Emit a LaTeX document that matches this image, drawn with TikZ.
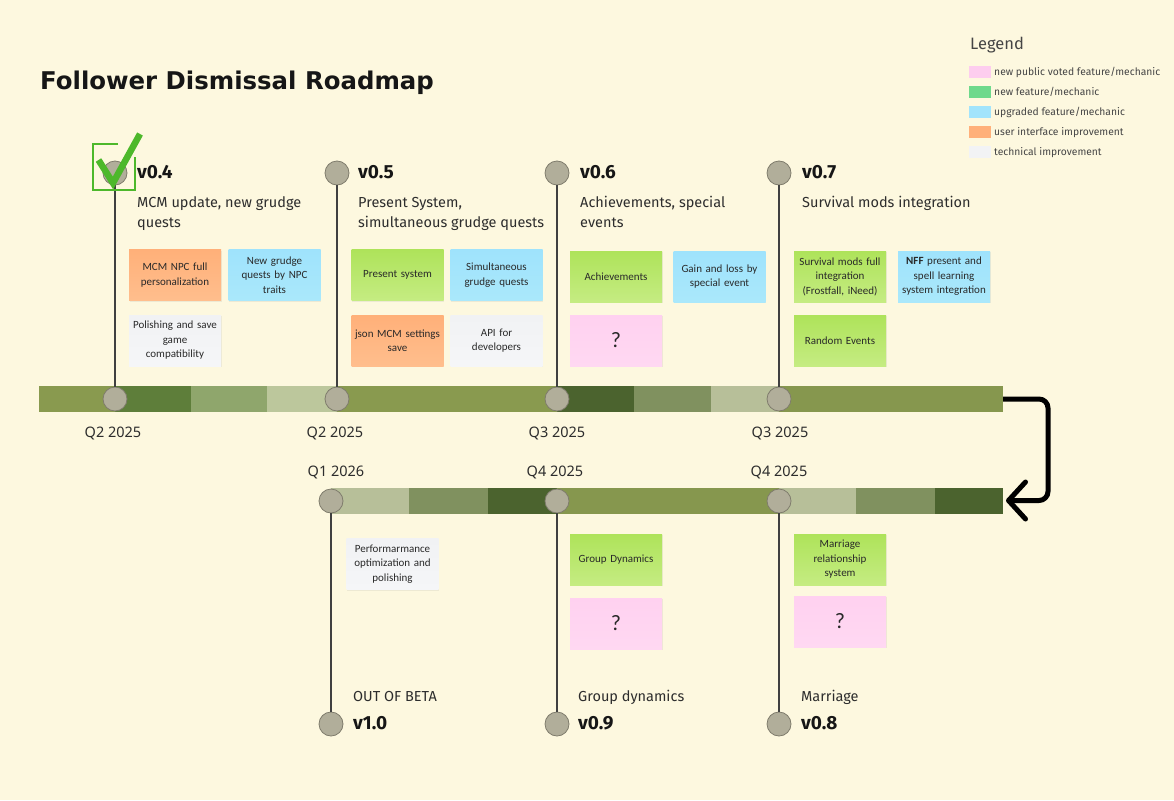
\documentclass[tikz,border=0pt]{standalone}
\usepackage{fontspec}
\setmainfont{Fira Sans}
\newfontfamily\notofont{Noto Sans}
\newfontfamily\titlefont{DejaVu Sans}
\newfontfamily\stickyfont{Carlito}
\usetikzlibrary{arrows.meta,shadows}
\definecolor{bg}{HTML}{FDF8DF}
\definecolor{olive}{HTML}{899A4F}
\definecolor{darkA}{HTML}{5E7E3A}
\definecolor{midA}{HTML}{8FA66C}
\definecolor{lightA}{HTML}{BCC79C}
\definecolor{darkB}{HTML}{4B632E}
\definecolor{midB}{HTML}{80915F}
\definecolor{lightB}{HTML}{B7BF99}
\definecolor{circ}{HTML}{B1AE9A}
\definecolor{circd}{HTML}{7F7C6C}
\definecolor{vline}{HTML}{404040}
\definecolor{txt}{HTML}{161616}
\definecolor{orT}{HTML}{FFB079}
\definecolor{orB}{HTML}{FFBE8D}
\definecolor{grT}{HTML}{AEE35A}
\definecolor{grB}{HTML}{C5EC82}
\definecolor{blT}{HTML}{9FE3FC}
\definecolor{blB}{HTML}{AAE8FB}
\definecolor{gyT}{HTML}{F1F2F4}
\definecolor{gyB}{HTML}{F5F6F8}
\definecolor{pkT}{HTML}{FFD1F0}
\definecolor{pkB}{HTML}{FFD8F2}
\definecolor{lgPink}{HTML}{FDCDEE}
\definecolor{lgGreen}{HTML}{6ED98C}
\definecolor{lgBlue}{HTML}{A2E4FC}
\definecolor{lgOrange}{HTML}{FFB07A}
\definecolor{lgGray}{HTML}{F2F3F5}
\definecolor{checkg}{HTML}{4DB82B}
\tikzset{
  sticky/.style={minimum width=92pt, minimum height=51pt, text width=90pt, align=center,
    inner sep=0pt, text=txt!92,
    font=\stickyfont\fontsize{11}{14.5}\selectfont,
    drop shadow={shadow xshift=0.8pt, shadow yshift=-1.4pt, opacity=0.12}},
  orange/.style={sticky, top color=orT, bottom color=orB},
  green/.style={sticky, top color=grT, bottom color=grB},
  blue/.style={sticky, top color=blT, bottom color=blB},
  gray/.style={sticky, top color=gyT, bottom color=gyB},
  pink/.style={sticky, top color=pkT, bottom color=pkB, font=\stickyfont\fontsize{22}{22}\selectfont},
  ms/.style={circle, minimum size=24pt, inner sep=0pt, fill=circ, draw=circd, line width=0.8pt},
  vl/.style={draw=vline, line width=1.5pt},
  ver/.style={anchor=base west, inner sep=0pt, text=txt, font=\bfseries\fontsize{19}{20}\selectfont},
  desc/.style={anchor=base west, inner sep=0pt, text=txt!90, align=left, font=\fontsize{14.5}{20}\selectfont},
  qlab/.style={anchor=base, inner sep=0pt, text=txt!90, font=\notofont\fontsize{14.5}{16}\selectfont},
  lgsw/.style={minimum width=22pt, minimum height=12pt, inner sep=0pt},
  lgtx/.style={anchor=base west, inner sep=0pt, text=txt!80, font=\fontsize{10.3}{12}\selectfont},
}
\begin{document}
\begin{tikzpicture}[x=1pt,y=-1pt]
\useasboundingbox (0,0) rectangle (1174,800);
\fill[bg] (0,0) rectangle (1174,800);

% title
\node[anchor=base west, inner sep=0pt, text=txt, font=\titlefont\bfseries\fontsize{24.4}{30}\selectfont] (title) at (40,89) {Follower Dismissal Roadmap};

% legend
\node[anchor=base west, inner sep=0pt, text=txt!80, font=\fontsize{16.5}{18}\selectfont] (legend) at (970,49) {Legend};
\node[lgsw, fill=lgPink] (lg1) at (980,72) {};
\node[lgsw, fill=lgGreen] (lg2) at (980,92) {};
\node[lgsw, fill=lgBlue] (lg3) at (980,112) {};
\node[lgsw, fill=lgOrange] (lg4) at (980,132) {};
\node[lgsw, fill=lgGray] (lg5) at (980,152) {};
\node[lgtx] (lt1) at (994,75.5) {new public voted feature/mechanic};
\node[lgtx] (lt2) at (994,95.5) {new feature/mechanic};
\node[lgtx] (lt3) at (994,115.5) {upgraded feature/mechanic};
\node[lgtx] (lt4) at (994,135.5) {user interface improvement};
\node[lgtx] (lt5) at (994,155.5) {technical improvement};

% top bar
\fill[olive] (39,386) rectangle (115,412);
\fill[darkA] (115,386) rectangle (191,412);
\fill[midA] (191,386) rectangle (267,412);
\fill[lightA] (267,386) rectangle (337,412);
\fill[olive] (337,386) rectangle (557,412);
\fill[darkB] (557,386) rectangle (634,412);
\fill[midB] (634,386) rectangle (711,412);
\fill[lightB] (711,386) rectangle (779,412);
\fill[olive!98!black] (779,386) rectangle (1003,412);
% bottom bar
\fill[lightB] (331,488) rectangle (409,514);
\fill[midB] (409,488) rectangle (488,514);
\fill[darkB] (488,488) rectangle (557,514);
\fill[olive!98!black] (557,488) rectangle (779,514);
\fill[lightB] (779,488) rectangle (856,514);
\fill[midB] (856,488) rectangle (935,514);
\fill[darkB] (935,488) rectangle (1003,514);

% bar end coordinates and loop arrow
\coordinate (topend) at (1003,399);
\coordinate (tr) at (1048,399);
\coordinate (br) at (1048,500.5);
\coordinate (botend) at (1006,500.5);
\draw[line width=5pt, rounded corners=9pt, line join=round, -{Straight Barb[length=17pt,width=37pt,round]}] (topend) -- (tr) -- (br) -- (botend);

% milestone circles
\node[ms] (a1) at (115,173) {};
\node[ms] (a2) at (115,399) {};
\node[ms] (b1) at (337,173) {};
\node[ms] (b2) at (337,399) {};
\node[ms] (c1) at (557,173) {};
\node[ms] (c2) at (557,399) {};
\node[ms] (d1) at (779,173) {};
\node[ms] (d2) at (779,399) {};
\node[ms] (e1) at (331,501) {};
\node[ms] (e2) at (331,724) {};
\node[ms] (f1) at (557,501) {};
\node[ms] (f2) at (557,724) {};
\node[ms] (g1) at (779,501) {};
\node[ms] (g2) at (779,724) {};
\draw[vl] (a1) -- (a2);
\draw[vl] (b1) -- (b2);
\draw[vl] (c1) -- (c2);
\draw[vl] (d1) -- (d2);
\draw[vl] (e1) -- (e2);
\draw[vl] (f1) -- (f2);
\draw[vl] (g1) -- (g2);

% check mark
\draw[checkg, line width=2.6pt] (118,144) -- (93,144) -- (93,190) -- (135,190) -- (135,157);
\draw[checkg, line width=6.5pt, line cap=butt, line join=miter] (98.5,160) -- (113,183) -- (140,134);

% version labels
\node[ver] (v4) at (137,178) {v0.4};
\node[ver] (v5) at (358,178) {v0.5};
\node[ver] (v6) at (580,178) {v0.6};
\node[ver] (v7) at (802,178) {v0.7};
\node[ver] (v10) at (353,729) {v1.0};
\node[ver] (v9) at (578,729) {v0.9};
\node[ver] (v8) at (801,729) {v0.8};

% descriptions
\node[desc] (d4) at (137,207) {MCM update, new grudge};
\node[desc] (d4b) at (137,227) {quests};
\node[desc] (d5) at (358,207) {Present System,};
\node[desc] (d5b) at (358,227) {simultaneous grudge quests};
\node[desc] (d6) at (580,207) {Achievements, special};
\node[desc] (d6b) at (580,227) {events};
\node[desc] (d7) at (802,207) {Survival mods integration};
\node[desc] (d10) at (353,701) {OUT OF BETA};
\node[desc] (d9) at (578,701) {Group dynamics};
\node[desc] (d8) at (801,701) {Marriage};

% date labels
\node[qlab] (q1) at (113,437) {Q2 2025};
\node[qlab] (q2) at (335,437) {Q2 2025};
\node[qlab] (q3) at (557,437) {Q3 2025};
\node[qlab] (q4) at (780,437) {Q3 2025};
\node[qlab] (q5) at (336,476) {Q1 2026};
\node[qlab] (q6) at (555,476) {Q4 2025};
\node[qlab] (q7) at (779,476) {Q4 2025};

% stickies
\node[orange] (s1) at (175,275) {MCM NPC full\\personalization};
\node[blue] (s2) at (274.5,275) {New grudge\\quests by NPC\\traits};
\node[gray] (s3) at (175,340.5) {Polishing and save\\game\\compatibility};
\node[green] (s4) at (397.5,275) {Present system};
\node[blue] (s5) at (496.5,275) {Simultaneous\\grudge quests};
\node[orange] (s6) at (397.5,340.5) {json MCM settings\\save};
\node[gray] (s7) at (496.5,340.5) {API for\\developers};
\node[green] (s8) at (616,276.5) {Achievements};
\node[blue] (s9) at (719.5,276.5) {Gain and loss by\\special event};
\node[pink] (s10) at (616,340.5) {?};
\node[green] (s11) at (840,276.5) {Survival mods full\\integration\\(Frostfall, iNeed)};
\node[blue] (s12) at (944,276.5) {\textbf{NFF} present and\\spell learning\\system integration};
\node[green] (s13) at (840,340.5) {Random Events};
\node[gray] (s14) at (392.5,564) {Performarmance\\optimization and\\polishing};
\node[green] (s15) at (616,559.5) {Group Dynamics};
\node[pink] (s16) at (616,623.5) {?};
\node[green] (s17) at (840,559.5) {Marriage\\relationship\\system};
\node[pink] (s18) at (840,621.5) {?};
\end{tikzpicture}
\end{document}
